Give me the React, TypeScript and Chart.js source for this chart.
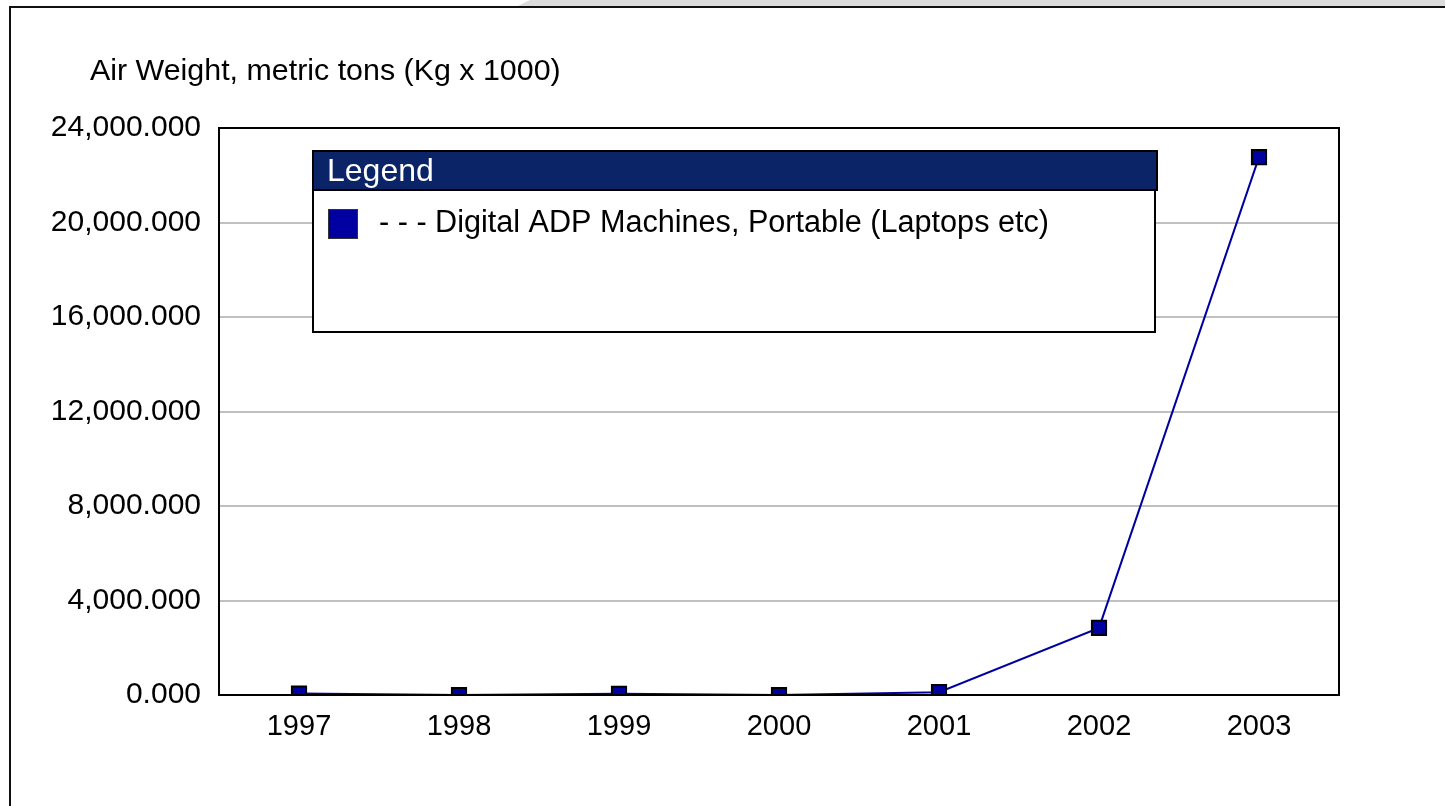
import React, { useEffect, useRef } from "react";
import { Chart, registerables } from "chart.js";

Chart.register(...registerables);

const years = ["1997", "1998", "1999", "2000", "2001", "2002", "2003"];
const airWeight = [60, 0, 50, 0, 120, 2840, 22770];
const seriesName = "- - - Digital ADP Machines, Portable (Laptops etc)";
const axisTitle = "Air Weight, metric tons (Kg x 1000)";
const legendTitle = "Legend";
const yMin = 0;
const yMax = 24000;
const yStep = 4000;

const FONT = "Arial, 'Liberation Sans', sans-serif";
const LINE_COLOR = "#0000A0";

const framePlugin = {
  id: "framePlugin",
  beforeDraw(chart: any) {
    const ctx = chart.ctx;
    ctx.save();
    ctx.fillStyle = "#ffffff";
    ctx.fillRect(0, 0, chart.width, chart.height);
    // top gray band
    ctx.fillStyle = "#dcdcdc";
    ctx.beginPath();
    ctx.moveTo(518, 6);
    ctx.lineTo(530, 0);
    ctx.lineTo(chart.width, 0);
    ctx.lineTo(chart.width, 6);
    ctx.closePath();
    ctx.fill();
    ctx.strokeStyle = "#111111";
    ctx.lineWidth = 2;
    ctx.beginPath();
    ctx.moveTo(chart.width, 7);
    ctx.lineTo(10, 7);
    ctx.lineTo(10, chart.height);
    ctx.stroke();
    // axis title
    ctx.fillStyle = "#000000";
    ctx.font = `30.4px ${FONT}`;
    ctx.textAlign = "left";
    ctx.textBaseline = "middle";
    ctx.fillText(axisTitle, 90, 72);
    ctx.restore();
  },
  afterDatasetsDraw(chart: any) {
    const ctx = chart.ctx;
    const a = chart.chartArea;
    ctx.save();
    ctx.strokeStyle = "#000000";
    ctx.lineWidth = 2;
    ctx.strokeRect(a.left, a.top, a.right - a.left, a.bottom - a.top);
    ctx.restore();
  },
  afterDraw(chart: any) {
    const ctx = chart.ctx;
    ctx.save();
    // legend box
    const x0 = 313, y0 = 151, x1 = 1155, y1 = 332;
    ctx.fillStyle = "#ffffff";
    ctx.fillRect(x0, y0, x1 - x0, y1 - y0);
    ctx.strokeStyle = "#000000";
    ctx.lineWidth = 2;
    ctx.strokeRect(x0, y0, x1 - x0, y1 - y0);
    // header
    ctx.fillStyle = "#0b2467";
    ctx.fillRect(x0, y0, 1157 - x0, 190 - y0);
    ctx.strokeRect(x0, y0, 1157 - x0, 190 - y0);
    ctx.fillStyle = "#ffffff";
    ctx.font = `32px ${FONT}`;
    ctx.textBaseline = "middle";
    ctx.textAlign = "left";
    ctx.fillText(legendTitle, 327, 172);
    // item
    ctx.fillStyle = LINE_COLOR;
    ctx.fillRect(328, 209, 30, 30);
    ctx.strokeStyle = "#333333";
    ctx.lineWidth = 1;
    ctx.strokeRect(328.5, 209.5, 29, 29);
    ctx.fillStyle = "#000000";
    ctx.font = `30.6px ${FONT}`;
    ctx.fillText(seriesName, 379, 224);
    ctx.restore();
  },
};

export default function App() {
  const ref = useRef<HTMLCanvasElement | null>(null);
  useEffect(() => {
    if (!ref.current) return;
    const chart = new Chart(ref.current, {
      type: "line",
      data: {
        labels: years,
        datasets: [
          {
            label: seriesName,
            data: airWeight,
            borderColor: LINE_COLOR,
            backgroundColor: LINE_COLOR,
            borderWidth: 2,
            pointStyle: "rect",
            pointRadius: 10,
            pointBorderColor: "#000000",
            pointBorderWidth: 2,
            pointBackgroundColor: LINE_COLOR,
            tension: 0,
          },
        ],
      },
      options: {
        animation: false,
        responsive: false,
        layout: { padding: { left: 0, top: 128, right: 106, bottom: 0 } },
        plugins: { legend: { display: false }, tooltip: { enabled: false } },
        scales: {
          x: {
            offset: true,
            grid: { display: false, drawTicks: false },
            border: { display: false },
            ticks: {
              color: "#000000",
              font: { family: FONT, size: 29 },
              padding: 15,
              maxRotation: 0,
            },
            afterFit(scale: any) {
              scale.height = 111;
            },
          },
          y: {
            min: yMin,
            max: yMax,
            grid: { color: "#c0c0c0", lineWidth: 2, drawTicks: false },
            border: { display: false },
            ticks: {
              stepSize: yStep,
              color: "#000000",
              font: { family: FONT, size: 30 },
              padding: 18,
              callback: (v: any) =>
                Number(v).toLocaleString("en-US", {
                  minimumFractionDigits: 3,
                  maximumFractionDigits: 3,
                }),
            },
            afterFit(scale: any) {
              scale.width = 219;
            },
          },
        },
      },
      plugins: [framePlugin],
    });
    return () => chart.destroy();
  }, []);
  return (
    <div style={{ position: "fixed", left: 0, top: 0, width: 1445, height: 806 }}>
      <canvas ref={ref} width={1445} height={806} style={{ display: "block" }} />
    </div>
  );
}
